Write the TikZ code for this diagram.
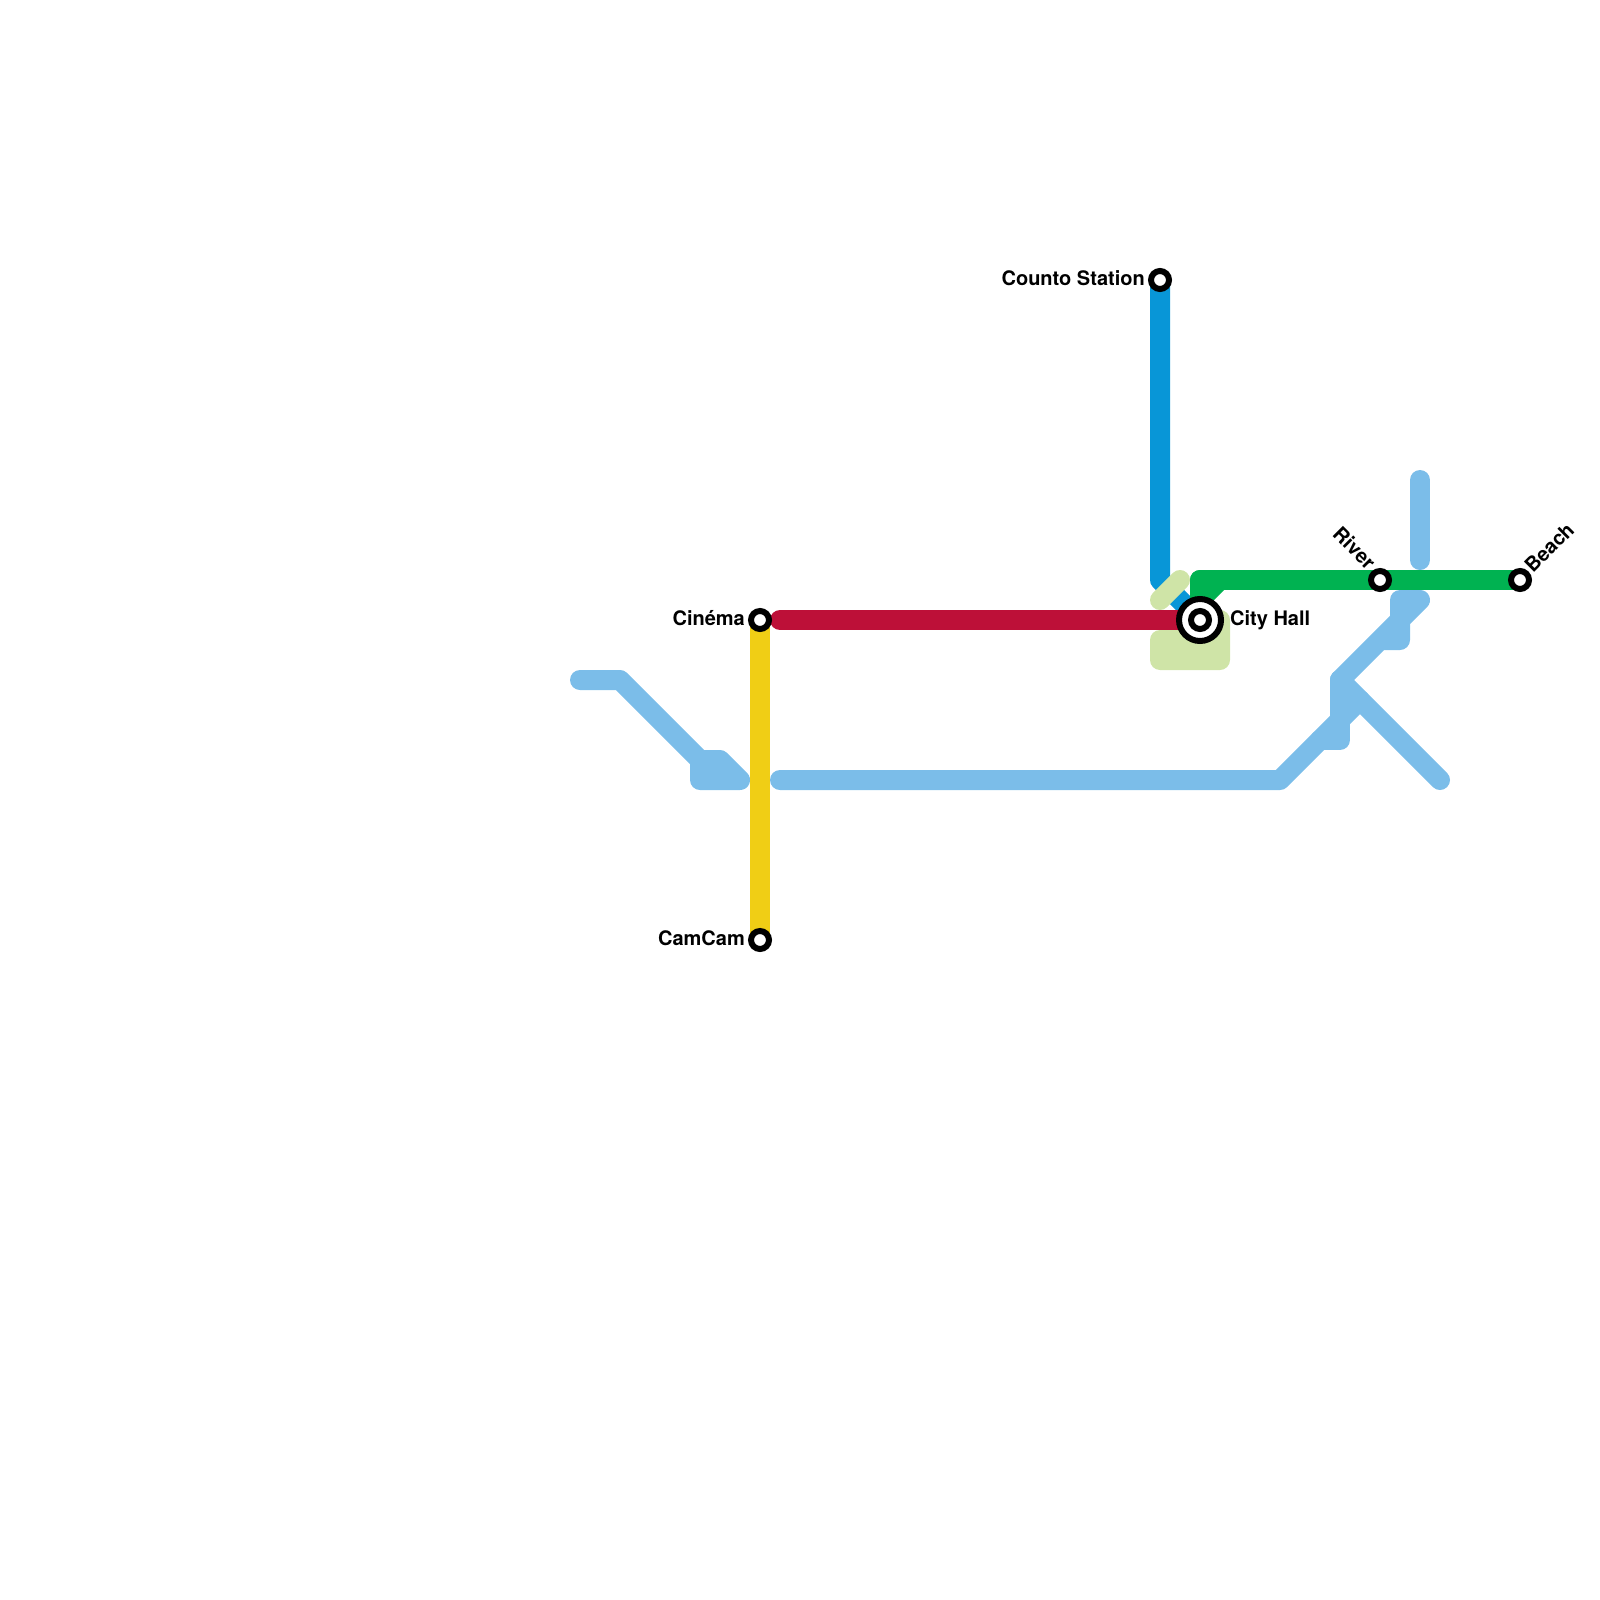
\documentclass[tikz,border=0pt]{standalone}
\usepackage{fontspec}
\setmainfont{TeX Gyre Heros}
\definecolor{ltblue}{HTML}{7BBDE9}
\definecolor{midblue}{HTML}{0896D7}
\definecolor{ylw}{HTML}{F0CE15}
\definecolor{grn}{HTML}{00B251}
\definecolor{crim}{HTML}{BD1038}
\definecolor{ltgrn}{HTML}{CFE4A7}
\tikzset{
  metro/.style={line width=20pt,line cap=round,line join=round},
  blob/.style={metro,fill},
  stop/.style={circle,draw=black,fill=white,line width=6pt,minimum size=18pt,inner sep=0pt,outer sep=0pt},
  hub/.style={circle,draw=black,fill=white,line width=6pt,minimum size=42pt,inner sep=0pt,outer sep=0pt},
  lbl/.style={font=\bfseries\fontsize{20pt}{22pt}\selectfont,inner sep=0pt,text=black}
}
\begin{document}
\begin{tikzpicture}[x=1pt,y=-1pt]
\useasboundingbox (0,0) rectangle (1600,1600);
% anchor points
\coordinate (cinema) at (760,620);
\coordinate (camcam) at (760,940);
\coordinate (counto) at (1160,280);
\coordinate (cityhall) at (1200,620);
\coordinate (river) at (1380,580);
\coordinate (beach) at (1520,580);
% light-blue line
\draw[metro,ltblue] (580,680) -- (620,680) -- (700,760);
\draw[blob,ltblue] (700,760) -- (720,760) -- (740,780) -- (700,780) -- cycle;
\draw[metro,ltblue] (780,780) -- (1280,780) -- (1360,700);
\draw[metro,ltblue] (1340,680) -- (1340,740) -- (1320,740);
\draw[metro,ltblue] (1340,680) -- (1440,780);
\draw[metro,ltblue] (1340,680) -- (1420,600) -- (1400,600) -- (1400,640) -- (1380,640);
\draw[metro,ltblue] (1420,480) -- (1420,560);
% blue line
\draw[metro,midblue] (counto) -- (1160,580) -- (cityhall);
% yellow line
\draw[metro,ylw] (cinema) -- (camcam);
% green line
\draw[metro,grn] (cityhall) -- (1200,580) -- (river) -- (beach);
\draw[blob,grn] (1200,600) -- (1200,580) -- (1220,580) -- cycle;
% light green shapes
\draw[blob,ltgrn] (1160,640) -- (1180,640) -- (1200,620) -- (1220,620) -- (1220,660) -- (1160,660) -- cycle;
\draw[metro,ltgrn] (1160,600) -- (1180,580);
% red line
\draw[metro,crim] (780,620) -- (cityhall);
% stations
\node[stop] (ncinema) at (cinema) {};
\node[stop] (ncamcam) at (camcam) {};
\node[stop] (ncounto) at (counto) {};
\node[stop] (nriver) at (river) {};
\node[stop] (nbeach) at (beach) {};
\node[hub] (nhub) at (cityhall) {};
\node[stop] (nhubin) at (cityhall) {};
% labels
\node[lbl,anchor=base east] (tcinema) at (745,625) {Cinéma};
\node[lbl,anchor=base east] (tcamcam) at (745,945) {CamCam};
\node[lbl,anchor=base east] (tcounto) at (1145,285) {Counto Station};
\node[lbl,anchor=base west] (tcity) at (1230,625) {City Hall};
\node[lbl,anchor=base east,rotate=-45] (triver) at (1367,571) {River};
\node[lbl,anchor=base west,rotate=45] (tbeach) at (1533,574) {Beach};
\end{tikzpicture}
\end{document}
